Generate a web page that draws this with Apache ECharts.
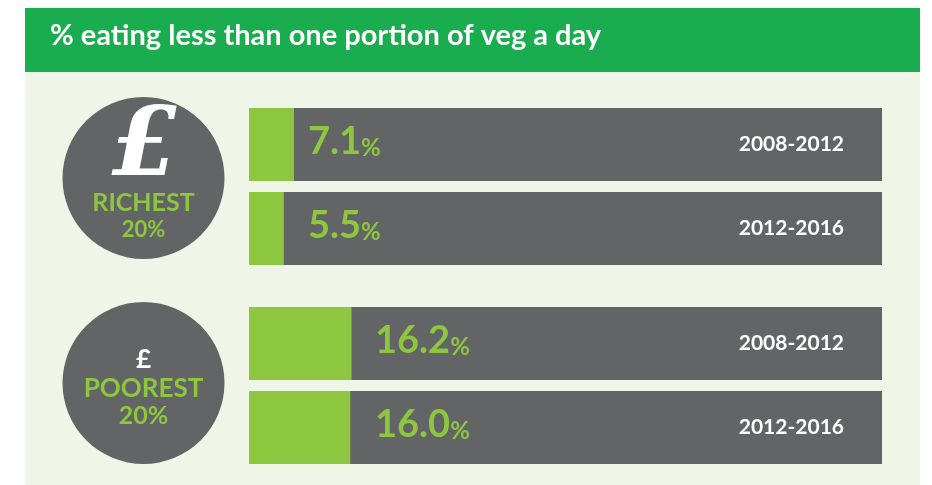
<!DOCTYPE html>
<html>
<head>
<meta charset="utf-8">
<script src="https://cdn.jsdelivr.net/npm/echarts@6/dist/echarts.min.js"></script>
<style>
  html, body { margin: 0; background: #fff; }
  #chart { width: 932px; height: 485px; }
</style>
</head>
<body>
<div id="chart"></div>
<script>
// data
const periods = ["2008-2012", "2012-2016"];
const richestValues = [7.1, 5.5];
const poorestValues = [16.2, 16.0];
const groupLabels = ["RICHEST", "POOREST"];
const shareLabel = "20%";
const titleText = "% eating less than one portion of veg a day";

const GREEN = "#8dc63f";
const GREY = "#636466";
const FONT = "Lato";

const valueLabel = (x) => ({
  show: true,
  position: [x, "50%"],
  align: "left",
  verticalAlign: "middle",
  offset: [0, -5],
  formatter: (p) => "{n|" + p.value.toFixed(1) + "}{p|%}",
  rich: {
    n: { color: GREEN, fontFamily: FONT, fontWeight: "bold", fontSize: 38, verticalAlign: "bottom", lineHeight: 42 },
    p: { color: GREEN, fontFamily: FONT, fontWeight: "bold", fontSize: 24, verticalAlign: "bottom", lineHeight: 36 },
  },
});

const barSeries = (idx, data, labelX) => ({
  type: "bar",
  xAxisIndex: idx,
  yAxisIndex: idx,
  data: data,
  barWidth: 73,
  showBackground: true,
  backgroundStyle: { color: GREY },
  itemStyle: { color: GREEN },
  label: valueLabel(labelX),
  silent: true,
});

const catAxis = (idx) => ({
  type: "category",
  gridIndex: idx,
  data: periods,
  inverse: true,
  position: "right",
  z: 10,
  axisLine: { show: false },
  axisTick: { show: false },
  axisLabel: {
    inside: true,
    margin: 38,
    color: "#fff",
    fontFamily: FONT,
    fontWeight: "bold",
    fontSize: 21,
  },
});

const valAxis = (idx) => ({
  type: "value",
  gridIndex: idx,
  min: 0,
  max: 100,
  show: false,
});

const option = {
  animation: false,
  grid: [
    { left: 249, top: 102.5, width: 633, height: 168 },
    { left: 249, top: 301.5, width: 633, height: 168 },
  ],
  xAxis: [valAxis(0), valAxis(1)],
  yAxis: [catAxis(0), catAxis(1)],
  graphic: [
    { type: "rect", z: -10, shape: { x: 25, y: 72, width: 895, height: 413 }, style: { fill: "#eff5e7" } },
    { type: "rect", z: -10, shape: { x: 25, y: 8, width: 895, height: 64 }, style: { fill: "#19ad4f" } },
    {
      type: "text", left: 50, top: 21,
      style: { text: titleText, fill: "#fff", font: "bold 29px " + FONT },
    },
    // richest circle
    { type: "circle", shape: { cx: 143.5, cy: 178, r: 81 }, style: { fill: GREY } },
    {
      type: "text", x: 145, y: 150,
      style: { text: "£", fill: "#fff", font: "italic bold 96px DejaVu Serif", align: "center", verticalAlign: "middle" },
    },
    {
      type: "text", x: 143.5, y: 203,
      style: { text: groupLabels[0], fill: GREEN, font: "bold 25px " + FONT, align: "center", verticalAlign: "middle" },
    },
    {
      type: "text", x: 143.5, y: 230,
      style: { text: shareLabel, fill: GREEN, font: "bold 22px " + FONT, align: "center", verticalAlign: "middle" },
    },
    // poorest circle
    { type: "circle", shape: { cx: 143.5, cy: 383, r: 81 }, style: { fill: GREY } },
    {
      type: "text", x: 143.5, y: 360,
      style: { text: "£", fill: "#fff", font: "bold 26px " + FONT, align: "center", verticalAlign: "middle" },
    },
    {
      type: "text", x: 143.5, y: 389,
      style: { text: groupLabels[1], fill: GREEN, font: "bold 26px " + FONT, align: "center", verticalAlign: "middle" },
    },
    {
      type: "text", x: 143.5, y: 416,
      style: { text: shareLabel, fill: GREEN, font: "bold 25px " + FONT, align: "center", verticalAlign: "middle" },
    },
  ],
  series: [
    barSeries(0, richestValues, 59),
    barSeries(1, poorestValues, 126),
  ],
};

const chart = echarts.init(document.getElementById("chart"));
chart.setOption(option);
</script>
</body>
</html>
